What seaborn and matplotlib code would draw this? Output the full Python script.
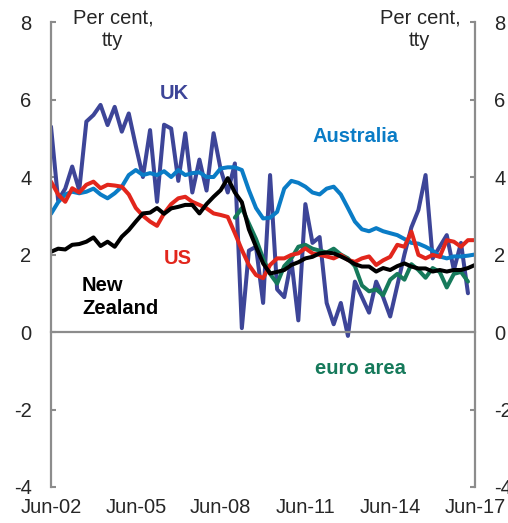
import matplotlib
matplotlib.use("Agg")
import matplotlib.pyplot as plt
import matplotlib.dates as mdates
import matplotlib.transforms as mtransforms
import seaborn as sns
import pandas as pd
import numpy as np

# ---- data (quarterly, per cent through the year) ----
quarters = pd.date_range("2002-06-30", periods=61, freq="QE")

uk = [5.3, 3.4, 3.7, 4.27, 3.66, 5.43, 5.6, 5.86, 5.34, 5.81,
      5.17, 5.64, 4.8, 4.0, 5.21, 3.36, 5.35, 5.25, 3.9, 5.13,
      3.6, 4.45, 3.65, 5.13, 4.2, 3.6, 4.35, 0.1, 2.1, 2.2,
      0.75, 4.05, 1.1, 0.9, 1.85, 0.3, 3.3, 2.3, 2.45, 0.75,
      0.2, 0.75, -0.1, 1.3, 0.9, 0.5, 1.3, 0.9, 0.4, 1.2,
      2.0, 2.7, 3.15, 4.05, 1.9, 2.2, 2.5, 1.6, 2.3, 1.0]

australia = [3.05, 3.35, 3.55, 3.62, 3.58, 3.62, 3.7, 3.55, 3.45, 3.58,
             3.75, 4.05, 4.18, 4.05, 4.1, 4.05, 4.15, 4.0, 4.18, 4.05,
             4.1, 4.12, 4.0, 4.0, 4.22, 4.25, 4.25, 4.18, 3.66, 3.2,
             2.93, 2.95, 3.1, 3.7, 3.9, 3.85, 3.75, 3.6, 3.55, 3.7,
             3.75, 3.55, 3.2, 2.85, 2.65, 2.6, 2.68, 2.6, 2.55, 2.5,
             2.4, 2.3, 2.28, 2.2, 2.1, 1.95, 1.9, 1.95, 1.95, 1.97, 2.0]

us = [3.88, 3.55, 3.36, 3.71, 3.6, 3.8, 3.88, 3.71, 3.8, 3.78,
      3.75, 3.55, 3.2, 3.0, 2.85, 2.74, 3.06, 3.3, 3.45, 3.49,
      3.36, 3.28, 3.19, 3.06, 3.02, 2.97, 2.55, 2.12, 1.73, 1.47,
      1.39, 1.73, 1.9, 1.9, 1.99, 2.03, 2.16, 2.03, 1.99, 1.95,
      1.9, 1.99, 1.86, 1.81, 1.9, 1.95, 1.73, 1.85, 1.94, 2.25,
      2.2, 2.59, 1.99, 1.9, 1.99, 1.94, 2.37, 2.33, 2.2, 2.37, 2.37]

new_zealand = [2.07, 2.15, 2.13, 2.25, 2.27, 2.33, 2.44, 2.22, 2.33, 2.2,
               2.46, 2.63, 2.85, 3.06, 3.08, 3.2, 3.05, 3.19, 3.23, 3.28,
               3.28, 3.06, 3.3, 3.49, 3.66, 3.97, 3.6, 3.35, 2.65, 2.2,
               1.77, 1.51, 1.55, 1.6, 1.73, 1.8, 1.9, 1.94, 2.03, 2.05,
               2.03, 1.95, 1.86, 1.75, 1.69, 1.69, 1.56, 1.65, 1.6, 1.7,
               1.77, 1.69, 1.64, 1.64, 1.56, 1.6, 1.56, 1.6, 1.6, 1.65, 1.73]

euro_start = 26  # first quarter index of euro area series
euro_area = [2.95, 3.2, 2.8, 2.4, 1.9, 1.5, 1.25, 1.7, 1.9, 2.2,
             2.25, 2.15, 2.1, 2.05, 2.15, 2.0, 1.9, 1.7, 1.2, 1.05,
             1.1, 0.95, 1.35, 1.5, 1.35, 1.75, 1.6, 1.4, 1.65, 1.55,
             1.15, 1.5, 1.55, 1.3]

tick_labels = ["Jun-02", "Jun-05", "Jun-08", "Jun-11", "Jun-14", "Jun-17"]
y_ticks = [-4, -2, 0, 2, 4, 6, 8]

colors = {"UK": "#3D4598", "euro area": "#167A5B", "Australia": "#0A7CC6",
          "US": "#E2261C", "New Zealand": "#000000"}

# ---- long-form table ----
frames = [
    pd.DataFrame({"date": quarters[:len(uk)], "value": uk, "series": "UK"}),
    pd.DataFrame({"date": quarters[euro_start:euro_start + len(euro_area)],
                  "value": euro_area, "series": "euro area"}),
    pd.DataFrame({"date": quarters[:len(australia)], "value": australia, "series": "Australia"}),
    pd.DataFrame({"date": quarters[:len(us)], "value": us, "series": "US"}),
    pd.DataFrame({"date": quarters[:len(new_zealand)], "value": new_zealand, "series": "New Zealand"}),
]
df = pd.concat(frames, ignore_index=True)

sns.set_style("white")
plt.rcParams["font.family"] = ["Liberation Sans", "DejaVu Sans"]

fig = plt.figure(figsize=(5.08, 5.23), dpi=100)
ax = fig.add_axes([51 / 508, 36 / 523, 424 / 508, 465 / 523])

sns.lineplot(data=df, x="date", y="value", hue="series",
             hue_order=["UK", "euro area", "Australia", "US", "New Zealand"],
             palette=colors, linewidth=2.9, estimator=None, legend=False, ax=ax)

gray = "#8C8C8C"
ax.set_xlim(quarters[0], quarters[-1])
ax.set_ylim(-4, 8)
ax.set_yticks(y_ticks)
ax.set_yticklabels([str(v) for v in y_ticks])
ax.set_xlabel("")
ax.set_ylabel("")

tick_dates = quarters[::12]
ax.set_xticks(tick_dates)
ax.tick_params(axis="x", direction="out", length=4.5, width=1.5, color=gray,
               labelbottom=False)
ax.tick_params(axis="y", which="both", left=True, right=True, labelleft=True,
               labelright=True, direction="in", length=3.5, width=1.5,
               color=gray, pad=14, labelsize=14.5)

for side in ["left", "right", "bottom"]:
    ax.spines[side].set_visible(True)
    ax.spines[side].set_color(gray)
    ax.spines[side].set_linewidth(1.6)
ax.spines["top"].set_visible(False)
ax.spines["bottom"].set_position(("data", 0))
ax.grid(False)

trans = mtransforms.blended_transform_factory(ax.transData, ax.transAxes)
for d, lab in zip(tick_dates, tick_labels):
    ax.text(mdates.date2num(d), -0.024, lab, transform=trans, ha="center",
            va="top", fontsize=14.5)

# unit labels
for xf in (0.146, 0.870):
    ax.text(xf, 1.030, "Per cent,", transform=ax.transAxes, ha="center",
            va="top", fontsize=14.5, clip_on=False)
    ax.text(xf, 0.981, "tty", transform=ax.transAxes, ha="center",
            va="top", fontsize=14.5, clip_on=False)

# series labels
lab_kw = dict(transform=ax.transAxes, fontsize=14.5, fontweight="bold")
ax.text(0.290, 0.847, "UK", color=colors["UK"], ha="center", va="center", **lab_kw)
ax.text(0.719, 0.753, "Australia", color=colors["Australia"], ha="center", va="center", **lab_kw)
ax.text(0.300, 0.492, "US", color=colors["US"], ha="center", va="center", **lab_kw)
ax.text(0.073, 0.434, "New", color=colors["New Zealand"], ha="left", va="center", **lab_kw)
ax.text(0.073, 0.383, "Zealand", color=colors["New Zealand"], ha="left", va="center", **lab_kw)
ax.text(0.729, 0.254, "euro area", color=colors["euro area"], ha="center", va="center", **lab_kw)

fig.savefig("out.png", dpi=100)
